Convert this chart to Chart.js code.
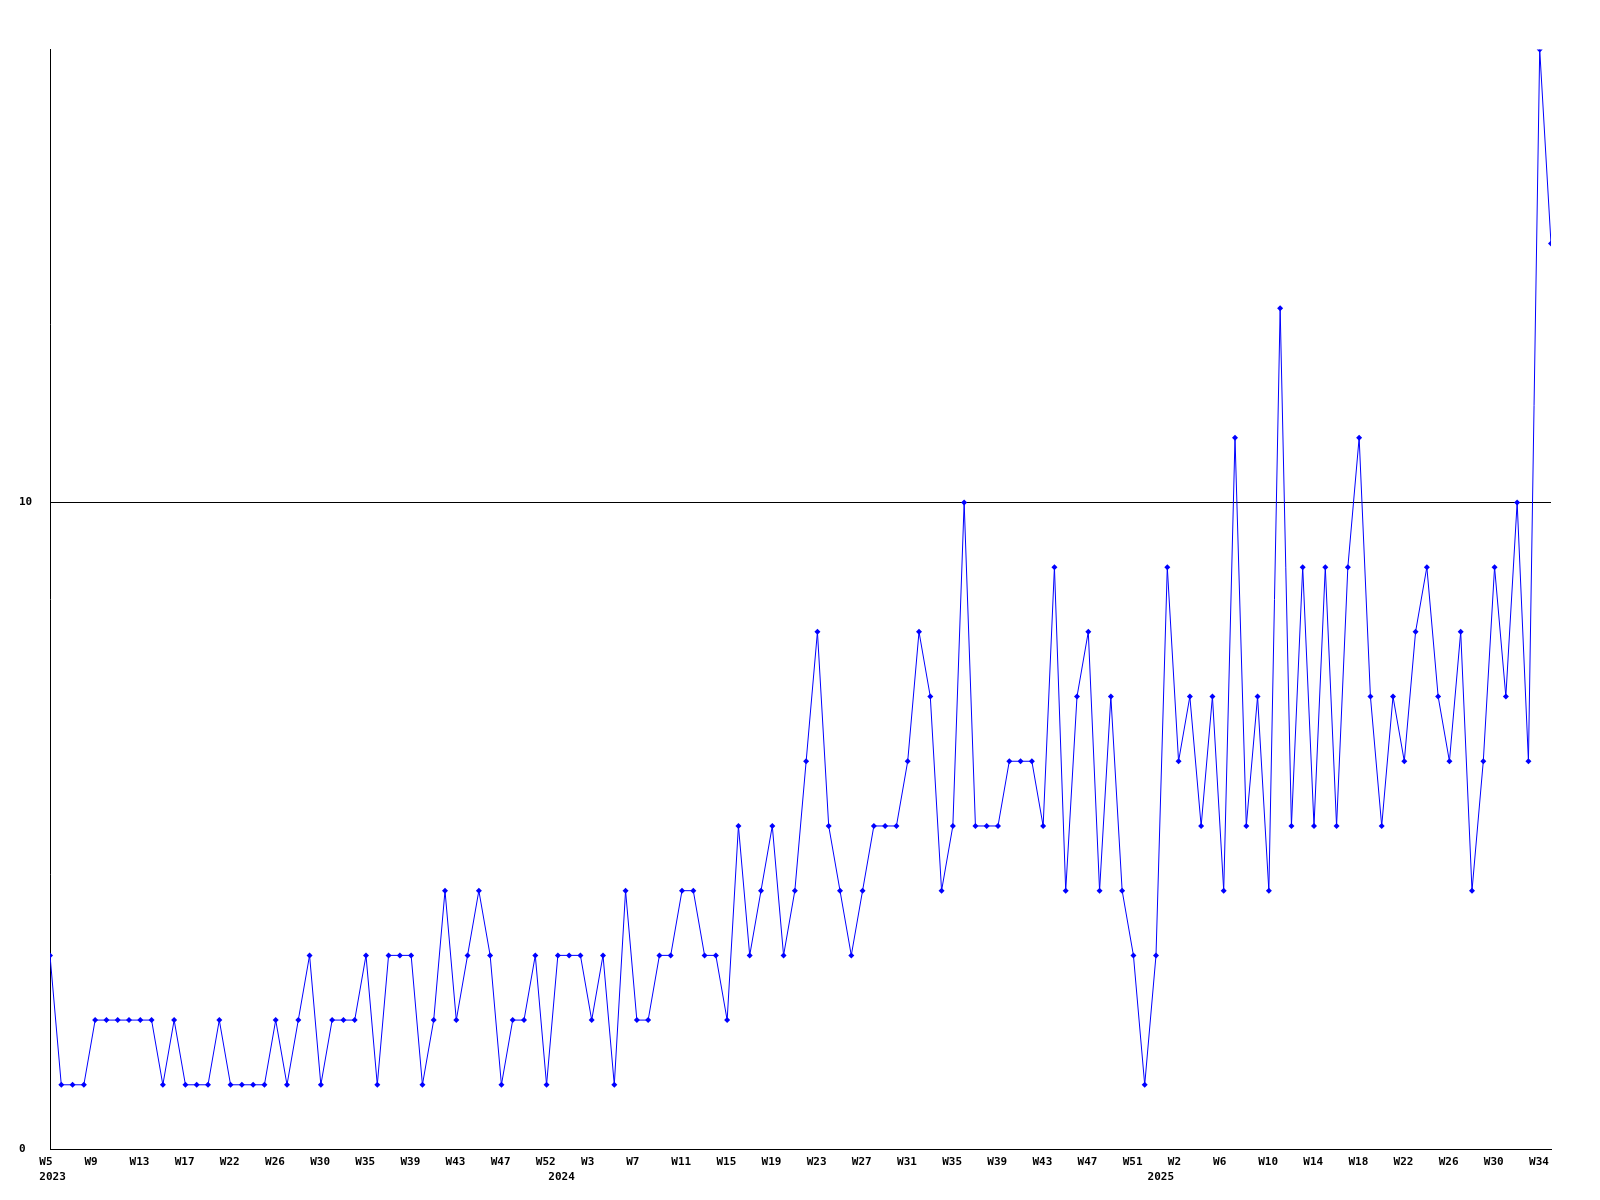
<!DOCTYPE html>
<html>
<head>
<meta charset="utf-8">
<title>Weekly count</title>
<script src="https://cdn.jsdelivr.net/npm/chart.js@4.4.1/dist/chart.umd.min.js"></script>
<style>
  html, body { margin: 0; padding: 0; background: #fff; }
  #chart { display: block; }
</style>
</head>
<body>
<canvas id="chart" width="1600" height="1200"></canvas>
<script>
// one value per week, 2023 W5 .. 2025 W35
const counts = [
  3, 1, 1, 1, 2, 2, 2, 2, 2, 2,
  1, 2, 1, 1, 1, 2, 1, 1, 1, 1,
  2, 1, 2, 3, 1, 2, 2, 2, 3, 1,
  3, 3, 3, 1, 2, 4, 2, 3, 4, 3,
  1, 2, 2, 3, 1, 3, 3, 3, 2, 3,
  1, 4, 2, 2, 3, 3, 4, 4, 3, 3,
  2, 5, 3, 4, 5, 3, 4, 6, 8, 5,
  4, 3, 4, 5, 5, 5, 6, 8, 7, 4,
  5, 10, 5, 5, 5, 6, 6, 6, 5, 9,
  4, 7, 8, 4, 7, 4, 3, 1, 3, 9,
  6, 7, 5, 7, 4, 11, 5, 7, 4, 13,
  5, 9, 5, 9, 5, 9, 11, 7, 5, 7,
  6, 8, 9, 7, 6, 8, 4, 6, 9, 7,
  10, 6, 17, 14
];

// x axis labels, one every 4th point
const weekTicks = ['W5', 'W9', 'W13', 'W17', 'W22', 'W26', 'W30', 'W35', 'W39', 'W43', 'W47', 'W52',
  'W3', 'W7', 'W11', 'W15', 'W19', 'W23', 'W27', 'W31', 'W35', 'W39', 'W43', 'W47', 'W51',
  'W2', 'W6', 'W10', 'W14', 'W18', 'W22', 'W26', 'W30', 'W34'];
const weekTickPos = [0, 4, 8, 12, 16, 20, 24, 28, 32, 36, 40, 44,
  48, 52, 56, 60, 64, 68, 72, 76, 80, 84, 88, 92, 96,
  100, 104, 108, 112, 116, 120, 124, 128, 132];
// year labels on a second row
const yearTicks = ['2023', '2024', '2025'];
const yearTickPos = [0, 45.1, 98.2];

const yMax = 17;

const xTicks = weekTickPos.map((p, i) => ({ value: p, label: [weekTicks[i]] }));
yearTickPos.forEach((p, i) => {
  const t = xTicks.find(t => t.value === p);
  if (t) t.label.push(yearTicks[i]);
  else xTicks.push({ value: p, label: ['', yearTicks[i]] });
});
xTicks.sort((a, b) => a.value - b.value);

Chart.defaults.font.family = "'DejaVu Sans Mono', monospace";
Chart.defaults.font.size = 11;
Chart.defaults.font.weight = 'bold';
Chart.defaults.color = '#000';

const chart = new Chart(document.getElementById('chart'), {
  type: 'line',
  data: {
    datasets: [{
      data: counts.map((c, i) => ({ x: i, y: c })),
      borderColor: '#0000ff',
      backgroundColor: '#0000ff',
      borderWidth: 1,
      tension: 0,
      pointStyle: 'rectRot',
      pointRadius: 3,
      pointBorderWidth: 0,
      fill: false,
    }],
  },
  options: {
    responsive: false,
    animation: false,
    events: [],
    layout: { padding: { left: 19, right: 49, top: 49.5, bottom: 0 } },
    plugins: { legend: { display: false }, tooltip: { enabled: false } },
    scales: {
      x: {
        type: 'linear',
        min: 0,
        max: counts.length - 1,
        grid: { display: false, drawTicks: false },
        border: { display: true, color: '#000', width: 1 },
        afterBuildTicks: (scale) => { scale.ticks = xTicks.map(t => ({ value: t.value })); },
        afterFit: (scale) => { scale.height = 50.5; },
        ticks: {
          autoSkip: false,
          maxRotation: 0,
          align: 'start',
          labelOffset: -10.7,
          padding: 5,
          font: { lineHeight: 1.38 },
          callback: (value) => {
            const t = xTicks.find(t => t.value === value);
            return t ? t.label : '';
          },
        },
      },
      y: {
        min: 0,
        max: yMax,
        grid: { color: '#000', lineWidth: 1, drawTicks: false },
        border: { display: true, color: '#000', width: 1 },
        afterFit: (scale) => { scale.width = 31; },
        ticks: {
          stepSize: 10,
          includeBounds: false,
          crossAlign: 'far',
          padding: 0,
        },
      },
    },
  },
});
</script>
</body>
</html>
